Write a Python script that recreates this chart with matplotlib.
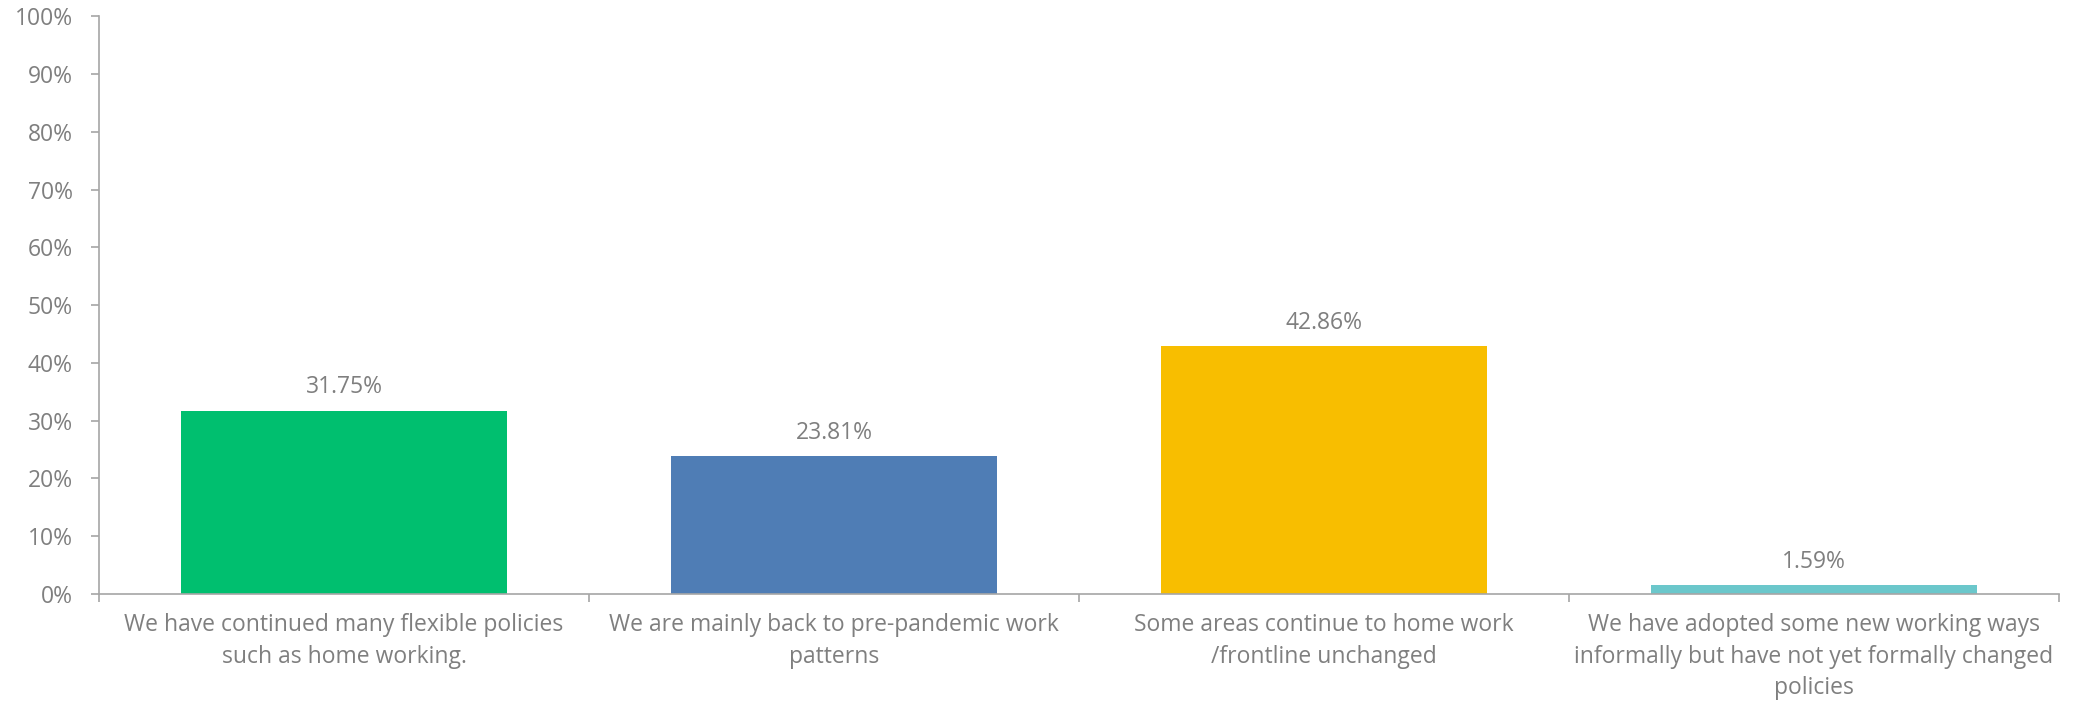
import matplotlib
matplotlib.use("Agg")
import matplotlib.pyplot as plt
from matplotlib.ticker import FixedLocator, PercentFormatter

categories = [
    "We have continued many flexible policies\nsuch as home working.",
    "We are mainly back to pre-pandemic work\npatterns",
    "Some areas continue to home work\n/frontline unchanged",
    "We have adopted some new working ways\ninformally but have not yet formally changed\npolicies",
]
values = [31.75, 23.81, 42.86, 1.59]
colors = ["#00BF6F", "#4F7DB5", "#F8BE00", "#6BC7CB"]
y_ticks = [0, 10, 20, 30, 40, 50, 60, 70, 80, 90, 100]

text_color = "#7F7F7F"
axis_color = "#A6A6A6"
font_size = 16.5
plt.rcParams["font.family"] = ["Open Sans", "DejaVu Sans"]

fig = plt.figure(figsize=(20.75, 7.08), dpi=100)
ax = fig.add_axes([0.0477, 0.161, 0.9446, 0.816])

x = range(len(categories))
bars = ax.bar(x, values, width=0.667, color=colors, zorder=2)

for rect, v in zip(bars, values):
    ax.annotate(f"{v:.2f}%", (rect.get_x() + rect.get_width() / 2, v),
                xytext=(0, 8), textcoords="offset points",
                ha="center", va="bottom", fontsize=font_size, color=text_color)

ax.set_xlim(-0.5, len(categories) - 0.5)
ax.set_ylim(0, 100)
ax.set_yticks(y_ticks)
ax.yaxis.set_major_formatter(PercentFormatter(decimals=0))

ax.set_xticks(list(x))
ax.set_xticklabels(categories, fontsize=font_size, color=text_color, linespacing=1.4)
ax.tick_params(axis="x", which="major", length=0, pad=14)
ax.xaxis.set_minor_locator(FixedLocator([i - 0.5 for i in range(len(categories) + 1)]))
ax.tick_params(axis="x", which="minor", length=6, width=1.2, color=axis_color)
ax.tick_params(axis="y", length=6, width=1.2, color=axis_color,
               labelsize=font_size, labelcolor=text_color, pad=13)

for side in ["top", "right"]:
    ax.spines[side].set_visible(False)
for side in ["left", "bottom"]:
    ax.spines[side].set_color(axis_color)
    ax.spines[side].set_linewidth(1.2)

fig.savefig("out.png", dpi=100, facecolor="white")
